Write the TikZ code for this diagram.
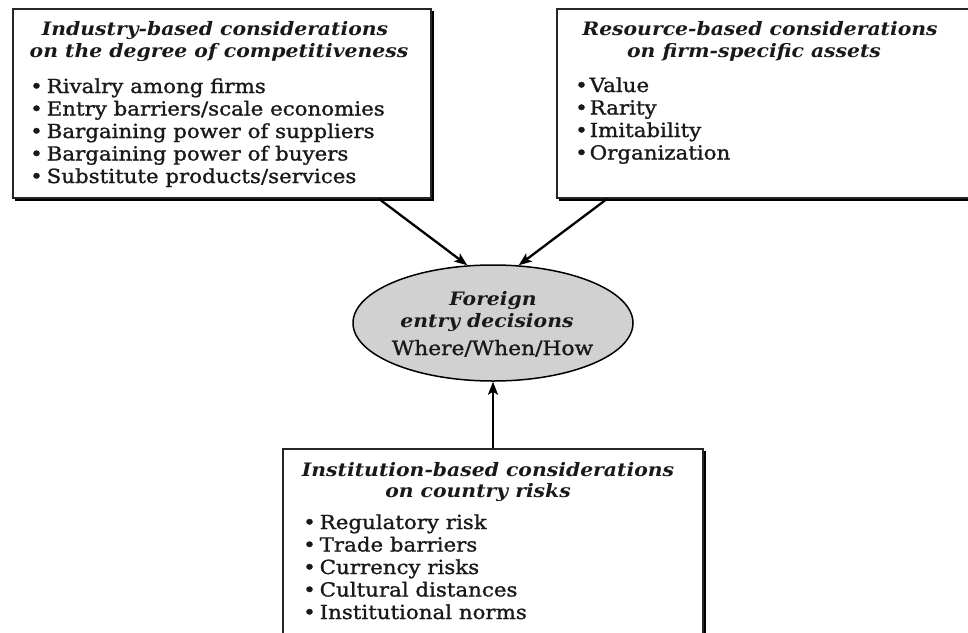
\documentclass[tikz,border=0pt]{standalone}
\usepackage{fontspec}
\setmainfont{DejaVu Serif}[FakeStretch=1.10]
\newfontfamily\itemfont{DejaVu Serif}[FakeStretch=1.10, FakeBold=1.2]
\usetikzlibrary{shapes.geometric,arrows.meta,calc}
\newcommand\bulA{\makebox[16.5pt][l]{\textbullet}}
\newcommand\bulB{\makebox[14.5pt][l]{\textbullet}}
\begin{document}
\begin{tikzpicture}[x=1pt,y=-1pt,
  panel/.style={draw=black!85, line width=1.3pt, fill=white, inner sep=0pt},
  shadowline/.style={line width=2.6pt, black},
  ttl/.style={font=\fontsize{18.5}{22}\selectfont\bfseries\itshape, inner sep=0pt, anchor=base, text=black!90},
  itm/.style={font=\fontsize{19.4}{22}\itemfont, inner sep=0pt, anchor=base west, text=black!90},
  arr/.style={line width=2.3pt, black, -{Stealth[length=13pt,width=10pt,inset=3pt]}},
  hub/.style={ellipse, draw=black, line width=1.5pt, fill=black!18, minimum width=280pt, minimum height=116pt, inner sep=0pt}]
\useasboundingbox (0,0) rectangle (968,632);
\fill[white] (0,0) rectangle (968,632);
% boxes
\node[panel, minimum width=418pt, minimum height=189pt] (ind) at (222,103.5) {};
\node[panel, minimum width=415pt, minimum height=189pt] (res) at (764.5,103.5) {};
\node[panel, minimum width=420pt, minimum height=211pt] (inst) at (493,554.5) {};
\foreach \b in {ind,res,inst}{
  \draw[shadowline] ($(\b.north east)+(1.5,3)$) -- ($(\b.south east)+(1.5,1.5)$) -- ($(\b.south west)+(3,1.5)$);
}
% hub
\node[hub] (fed) at (493,323) {};
\node[ttl] (fed-1) at (493,305) {Foreign};
\node[ttl] (fed-2) at (487,327) {entry decisions};
\node[ttl, font=\fontsize{19.8}{22}\itemfont] (fed-3) at (492.5,355) {Where/When/How};
% industry box
\node[ttl] (ind-t1) at (215,35) {Industry-based considerations};
\node[ttl] (ind-t2) at (219,57) {on the degree of competitiveness};
\node[itm] (ind-1) at (30,93) {\bulA Rivalry among firms};
\node[itm] (ind-2) at (30,115.5) {\bulA Entry barriers/scale economies};
\node[itm] (ind-3) at (30,138) {\bulA Bargaining power of suppliers};
\node[itm] (ind-4) at (30,160.5) {\bulA Bargaining power of buyers};
\node[itm] (ind-5) at (30,183) {\bulA Substitute products/services};
% resource box
\node[ttl] (res-t1) at (760,35) {Resource-based considerations};
\node[ttl] (res-t2) at (754,57) {on firm-specific assets};
\node[itm] (res-1) at (575,92) {\bulB Value};
\node[itm] (res-2) at (575,114.5) {\bulB Rarity};
\node[itm] (res-3) at (575,137) {\bulB Imitability};
\node[itm] (res-4) at (575,159.5) {\bulB Organization};
% institution box
\node[ttl] (inst-t1) at (488,476) {Institution-based considerations};
\node[ttl] (inst-t2) at (478,497) {on country risks};
\node[itm] (inst-1) at (303,529) {\bulA Regulatory risk};
\node[itm] (inst-2) at (303,551.5) {\bulA Trade barriers};
\node[itm] (inst-3) at (303,574) {\bulA Currency risks};
\node[itm] (inst-4) at (303,596.5) {\bulA Cultural distances};
\node[itm] (inst-5) at (303,619) {\bulA Institutional norms};
% connectors
\draw[arr] ($(ind.south east)+(-53,0)$) -- (fed.114);
\draw[arr] ($(res.south west)+(51,0)$) -- (fed.66);
\draw[arr] (inst.north) -- (fed.south);
\end{tikzpicture}
\end{document}
